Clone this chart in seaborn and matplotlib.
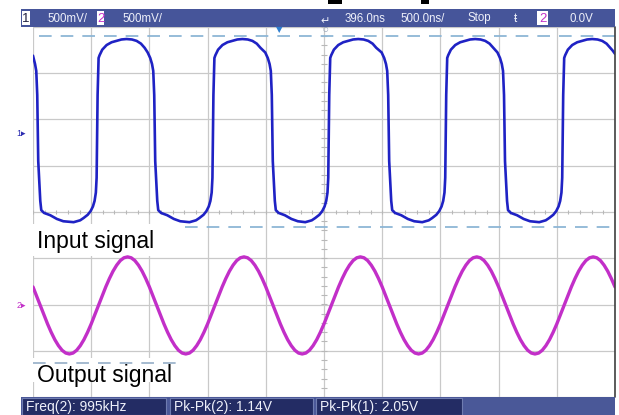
import numpy as np
import pandas as pd
import matplotlib
matplotlib.use("Agg")
import matplotlib.pyplot as plt
import seaborn as sns
from matplotlib.patches import Rectangle
from matplotlib.transforms import Affine2D
from matplotlib import font_manager as fm

# ---------------- data (screen divisions: x 0..10 at 500 ns/div, y -4..4 at 500 mV/div)
in_t = [0.0, 0.035, 0.056, 0.073, 0.09, 0.125, 0.142, 0.19, 0.297, 0.41, 0.52,
        0.698, 0.81, 0.869, 0.94, 0.99, 1.03, 1.058, 1.08, 1.093, 1.11, 1.127, 1.144, 1.19, 1.265, 1.35, 1.436, 1.52, 1.608, 1.70, 1.78, 1.855, 1.918,
        1.97, 2.014, 2.045, 2.066, 2.083, 2.10, 2.135, 2.152, 2.20, 2.307, 2.42, 2.53,
        2.688, 2.80, 2.859, 2.93, 2.98, 3.02, 3.048, 3.07, 3.083, 3.10, 3.117, 3.134, 3.18, 3.255, 3.34, 3.426, 3.51, 3.598, 3.69, 3.77, 3.845, 3.908,
        3.99, 4.034, 4.065, 4.086, 4.103, 4.12, 4.155, 4.172, 4.22, 4.327, 4.44, 4.55,
        4.678, 4.79, 4.849, 4.92, 4.97, 5.01, 5.038, 5.06, 5.073, 5.09, 5.107, 5.124, 5.17, 5.245, 5.33, 5.416, 5.50, 5.588, 5.68, 5.76, 5.835, 5.898,
        5.99, 6.034, 6.065, 6.086, 6.103, 6.12, 6.155, 6.172, 6.22, 6.327, 6.44, 6.55,
        6.688, 6.80, 6.859, 6.93, 6.98, 7.02, 7.048, 7.07, 7.083, 7.10, 7.117, 7.134, 7.18, 7.255, 7.34, 7.426, 7.51, 7.598, 7.69, 7.77, 7.845, 7.908,
        7.98, 8.024, 8.055, 8.076, 8.093, 8.11, 8.145, 8.162, 8.21, 8.317, 8.43, 8.54,
        8.698, 8.81, 8.869, 8.94, 8.99, 9.03, 9.058, 9.08, 9.093, 9.11, 9.127, 9.144, 9.19, 9.265, 9.35, 9.436, 9.52, 9.608, 9.70, 9.78, 9.855, 9.918,
        9.96, 10.0]
in_v = [3.38, 3.20, 3.05, 2.53, 1.10, 0.24, 0.04, -0.02, -0.07, -0.15, -0.20,
        -0.22, -0.18, -0.13, -0.06, 0.02, 0.12, 0.24, 0.42, 0.74, 2.53, 3.33, 3.39, 3.51, 3.61, 3.67, 3.70, 3.73, 3.74, 3.73, 3.70, 3.64, 3.55,
        3.45, 3.33, 3.20, 3.05, 2.53, 1.10, 0.24, 0.04, -0.02, -0.07, -0.15, -0.20,
        -0.22, -0.18, -0.13, -0.06, 0.02, 0.12, 0.24, 0.42, 0.74, 2.53, 3.33, 3.39, 3.51, 3.61, 3.67, 3.70, 3.73, 3.74, 3.73, 3.70, 3.64, 3.55,
        3.45, 3.33, 3.20, 3.05, 2.53, 1.10, 0.24, 0.04, -0.02, -0.07, -0.15, -0.20,
        -0.22, -0.18, -0.13, -0.06, 0.02, 0.12, 0.24, 0.42, 0.74, 2.53, 3.33, 3.39, 3.51, 3.61, 3.67, 3.70, 3.73, 3.74, 3.73, 3.70, 3.64, 3.55,
        3.45, 3.33, 3.20, 3.05, 2.53, 1.10, 0.24, 0.04, -0.02, -0.07, -0.15, -0.20,
        -0.22, -0.18, -0.13, -0.06, 0.02, 0.12, 0.24, 0.42, 0.74, 2.53, 3.33, 3.39, 3.51, 3.61, 3.67, 3.70, 3.73, 3.74, 3.73, 3.70, 3.64, 3.55,
        3.45, 3.33, 3.20, 3.05, 2.53, 1.10, 0.24, 0.04, -0.02, -0.07, -0.15, -0.20,
        -0.22, -0.18, -0.13, -0.06, 0.02, 0.12, 0.24, 0.42, 0.74, 2.53, 3.33, 3.39, 3.51, 3.61, 3.67, 3.70, 3.73, 3.74, 3.73, 3.70, 3.64, 3.55,
        3.49, 3.42]

out_t = np.linspace(0, 10, 161)  # scope sample times
out_v = [-1.62, -1.82, -2.02, -2.22, -2.42, -2.60, -2.76, -2.89, -2.99, -3.05, -3.07, -3.05, -2.99, -2.89, -2.76, -2.60,
         -2.42, -2.22, -2.02, -1.82, -1.62, -1.44, -1.28, -1.15, -1.05, -0.99, -0.97, -0.99, -1.05, -1.15, -1.28, -1.44,
         -1.62, -1.82, -2.02, -2.22, -2.42, -2.60, -2.76, -2.89, -2.99, -3.05, -3.07, -3.05, -2.99, -2.89, -2.76, -2.60,
         -2.42, -2.22, -2.02, -1.82, -1.62, -1.44, -1.28, -1.15, -1.05, -0.99, -0.97, -0.99, -1.05, -1.15, -1.28, -1.44,
         -1.62, -1.82, -2.02, -2.22, -2.42, -2.60, -2.76, -2.89, -2.99, -3.05, -3.07, -3.05, -2.99, -2.89, -2.76, -2.60,
         -2.42, -2.22, -2.02, -1.82, -1.62, -1.44, -1.28, -1.15, -1.05, -0.99, -0.97, -0.99, -1.05, -1.15, -1.28, -1.44,
         -1.62, -1.82, -2.02, -2.22, -2.42, -2.60, -2.76, -2.89, -2.99, -3.05, -3.07, -3.05, -2.99, -2.89, -2.76, -2.60,
         -2.42, -2.22, -2.02, -1.82, -1.62, -1.44, -1.28, -1.15, -1.05, -0.99, -0.97, -0.99, -1.05, -1.15, -1.28, -1.44,
         -1.62, -1.82, -2.02, -2.22, -2.42, -2.60, -2.76, -2.89, -2.99, -3.05, -3.07, -3.05, -2.99, -2.89, -2.76, -2.60,
         -2.42, -2.22, -2.02, -1.82, -1.62, -1.44, -1.28, -1.15, -1.05, -0.99, -0.97, -0.99, -1.05, -1.15, -1.28, -1.44,
         -1.62]

cursor_top = 3.80
cursor_bottom = -0.32
cursor_out = -3.27
ground1 = 1.7
ground2 = -2.02

header_ch = ["500mV/", "500mV/"]
header_time = ["396.0ns", "500.0ns/", "Stop"]
header_trig = "0.0V"
footer_labels = ["Freq(2): 995kHz", "Pk-Pk(2): 1.14V", "Pk-Pk(1): 2.05V"]
label_in = "Input signal"
label_out = "Output signal"

# ---------------- figure
W, H = 619, 415
sns.set_style("white")
plt.rcParams['font.family'] = ['Liberation Sans', 'DejaVu Sans']

avail = {f.name for f in fm.fontManager.ttflist}
if 'Liberation Sans Narrow' in avail:
    narrow = ['Liberation Sans Narrow', 'DejaVu Sans']
    hdr_size = 9.5
else:
    narrow = ['Liberation Sans', 'DejaVu Sans']
    hdr_size = 8.3

fig = plt.figure(figsize=(W / 100, H / 100), dpi=100)
fig.patch.set_facecolor('white')
pix = Affine2D().scale(1.0 / W, -1.0 / H).translate(0, 1) + fig.transFigure

L, R, T, B = 33, 615, 27, 397
ax = fig.add_axes([L / W, 1 - B / H, (R - L) / W, (B - T) / H])
ax.set_xlim(0, 10)
ax.set_ylim(-4, 4)
for s in ax.spines.values():
    s.set_visible(False)
ax.set_xticks(np.arange(0, 11))
ax.set_yticks(np.arange(-4, 5))
ax.tick_params(length=0, labelbottom=False, labelleft=False)
ax.set_axisbelow(True)
ax.grid(True, color='#c9c9c9', lw=0.9)
ax.axvline(10, color='#404040', lw=1.2, clip_on=False, zorder=4)

# centre-line minor ticks
mx = np.arange(0, 10.01, 0.2)
ax.vlines(mx, -0.05, 0.05, color='#b8b8b8', lw=0.8, zorder=0.6)
my = np.arange(-4, 4.01, 0.2)
ax.hlines(my, 4.94, 5.06, color='#b8b8b8', lw=0.8, zorder=0.6)

dash = (0, (7, 5))
ax.hlines(cursor_top, 0.1, 10, colors='#8db6d6', lw=1.3, linestyles=[dash], zorder=1.5)
ax.hlines(cursor_bottom, 2.61, 10, colors='#8db6d6', lw=1.3, linestyles=[dash], zorder=1.5)

# traces
df_in = pd.DataFrame({'t': in_t, 'v': in_v})
df_out = pd.DataFrame({'t': out_t, 'v': out_v})
sns.lineplot(data=df_out, x='t', y='v', ax=ax, color='#c22fc8', lw=2.4,
             estimator=None, sort=False, zorder=3)
sns.lineplot(data=df_in, x='t', y='v', ax=ax, color='#1f22c4', lw=1.9,
             estimator=None, sort=False, zorder=3)
ax.set_xlabel('')
ax.set_ylabel('')

# label boxes
ax.add_patch(Rectangle((31, 224), 126, 32, transform=pix, facecolor='white',
                       edgecolor='none', zorder=1.2, clip_on=False))
ax.add_patch(Rectangle((31, 358), 146, 24, transform=pix, facecolor='white',
                       edgecolor='none', zorder=1.2, clip_on=False))
ax.hlines(cursor_out, 0, 2.58, colors='#9db4cc', lw=1.3, linestyles=[dash], zorder=1.5)
fig.text(37 / W, 1 - 248 / H, label_in, fontsize=16.5, color='black',
         family=['Liberation Sans', 'DejaVu Sans'], va='baseline', ha='left', zorder=5)
fig.text(37 / W, 1 - 382 / H, label_out, fontsize=16.5, color='black',
         family=['Liberation Sans', 'DejaVu Sans'], va='baseline', ha='left', zorder=5)

# ground markers
ax.text(-0.12, ground1, "1\u25b8", color='#2a2ab0', fontsize=6.5, ha='right', va='center', clip_on=False)
ax.text(-0.12, ground2, "2\u25b8", color='#c22fc8', fontsize=6.5, ha='right', va='center', clip_on=False)

# ---------------- header bar
hdr = '#46559a'
fig.patches.append(Rectangle((21, 9), 594, 18, transform=pix, facecolor=hdr, edgecolor='none'))
fig.patches.append(Rectangle((22, 11), 8, 14, transform=pix, facecolor='white', edgecolor='none'))
fig.patches.append(Rectangle((97, 11), 7, 14, transform=pix, facecolor='white', edgecolor='none'))
fig.patches.append(Rectangle((537, 11), 11, 14, transform=pix, facecolor='white', edgecolor='none'))
tk = dict(transform=pix, va='center', family=narrow, fontsize=hdr_size, color='#eef0fa')
fig.text(26, 18.5, "1", ha='center', **{**tk, 'color': '#202040', 'fontsize': 9.5})
fig.text(100.5, 18.5, "2", ha='center', **{**tk, 'color': '#c22fc8', 'fontsize': 9.5})
fig.text(542.5, 18.5, "2", ha='center', **{**tk, 'color': '#c22fc8', 'fontsize': 9.5})
fig.text(47, 18.5, header_ch[0], ha='left', **tk)
fig.text(122, 18.5, header_ch[1], ha='left', **tk)
fig.text(345, 18.5, header_time[0], ha='left', **tk)
fig.text(400, 18.5, header_time[1], ha='left', **tk)
fig.text(467, 18.5, header_time[2], ha='left', **tk)
fig.text(515, 18.5, "\u0167", ha='center', **tk)
fig.text(570, 18.5, header_trig, ha='left', **tk)
fig.text(325, 21, "\u21b5", ha='center', **{**tk, 'fontsize': 8, 'family': ['DejaVu Sans']})
fig.text(279, 30, "\u25bc", ha='center', transform=pix, va='center', fontsize=6,
         color='#2f7fd0', family=['DejaVu Sans'])
fig.text(325, 28.5, "\u25cb", ha='center', transform=pix, va='center', fontsize=4.5,
         color='#8a9ab0', family=['DejaVu Sans'])
# cropped glyph remnants above the screen
fig.patches.append(Rectangle((328, 0), 14, 4, transform=pix, facecolor='black', edgecolor='none'))
fig.patches.append(Rectangle((421, 0), 8, 4, transform=pix, facecolor='black', edgecolor='none'))

# ---------------- footer bar
fig.patches.append(Rectangle((21, 397), 594, 18, transform=pix, facecolor='#4a5898', edgecolor='none'))
boxes = [(22, 144), (170, 143), (316, 146)]
for (bx, bw) in boxes:
    fig.patches.append(Rectangle((bx, 398), bw, 17, transform=pix, facecolor='#232c64',
                                 edgecolor='#6f7cb0', lw=0.8))
for (bx, bw), lab in zip(boxes, footer_labels):
    fig.text(bx + 4, 406.5, lab, ha='left', transform=pix, va='center', family=narrow,
             fontsize=10, color='#eef0fa')

fig.savefig('out.png', dpi=100, facecolor='white')
